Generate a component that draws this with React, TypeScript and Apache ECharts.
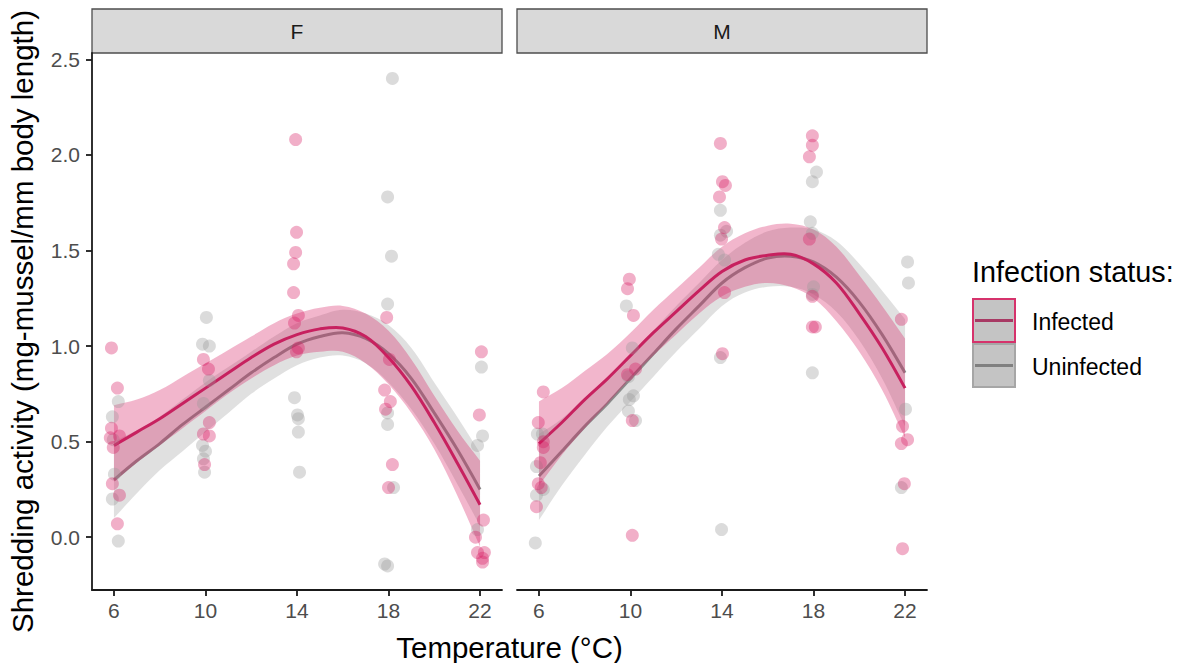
import React, { useEffect, useRef } from "react";
import * as echarts from "echarts";

// ---- Data ----
const TEMPS = [6, 10, 14, 18, 22];
const Y_TICKS = [0, 0.5, 1, 1.5, 2, 2.5];
const FACETS = ["F", "M"];
const FIT_X = [6, 7, 8, 9, 10, 11, 12, 13, 14, 15, 16, 17, 18, 19, 20, 21, 22];

// Observed points [temperature (jittered), shredding]
const F_INFECTED_PTS = [
  [5.89, 0.99], [6.15, 0.78], [5.89, 0.57], [5.84, 0.52], [6.24, 0.53], [5.97, 0.47], [5.93, 0.28], [6.24, 0.22], [6.15, 0.07],
  [9.91, 0.93], [10.13, 0.88], [10.17, 0.6], [9.91, 0.54], [10.17, 0.53], [9.96, 0.38],
  [13.94, 2.08], [13.98, 1.595], [13.94, 1.49], [13.85, 1.43], [13.85, 1.28], [14.06, 1.16], [13.89, 1.12], [14.06, 0.99], [13.98, 0.97],
  [17.92, 1.15], [18.04, 0.93], [17.83, 0.77], [18.08, 0.71], [17.87, 0.67], [18.17, 0.38], [18.0, 0.26],
  [22.06, 0.97], [21.97, 0.64], [22.15, 0.09], [21.8, 0.0], [21.89, -0.08], [22.19, -0.08], [22.11, -0.13], [22.11, -0.11],
];
const F_UNINFECTED_PTS = [
  [6.19, 0.71], [5.93, 0.63], [5.97, 0.51], [6.02, 0.33], [5.93, 0.2], [6.19, -0.02],
  [10.04, 1.15], [9.87, 1.01], [10.17, 1.0], [10.17, 0.82], [9.91, 0.7], [9.87, 0.48], [10.0, 0.45], [9.91, 0.41], [9.96, 0.34],
  [13.89, 0.73], [14.02, 0.64], [14.06, 0.62], [14.06, 0.55], [14.11, 0.34],
  [18.17, 2.4], [17.96, 1.78], [18.13, 1.47], [17.96, 1.22], [17.96, 0.65], [17.96, 0.59], [18.22, 0.26], [17.83, -0.14], [17.96, -0.15],
  [22.06, 0.89], [22.11, 0.53], [21.89, 0.48], [21.89, 0.04],
];
const M_INFECTED_PTS = [
  [6.19, 0.76], [5.97, 0.6], [6.19, 0.5], [6.19, 0.47], [6.06, 0.39], [5.97, 0.28], [6.1, 0.26], [5.89, 0.16],
  [9.95, 1.35], [9.87, 1.3], [10.13, 1.16], [10.22, 0.88], [9.87, 0.85], [10.08, 0.61], [10.08, 0.01],
  [13.93, 2.06], [14.02, 1.86], [14.15, 1.84], [13.89, 1.78], [14.11, 1.62], [13.98, 1.56], [14.11, 1.28], [14.02, 0.96],
  [17.95, 2.1], [17.95, 2.05], [17.82, 1.99], [17.82, 1.56], [17.95, 1.26], [17.95, 1.1], [18.08, 1.1],
  [21.84, 1.14], [21.89, 0.58], [22.11, 0.51], [21.84, 0.49], [21.97, 0.28], [21.89, -0.06],
];
const M_UNINFECTED_PTS = [
  [5.93, 0.54], [6.15, 0.54], [5.89, 0.37], [6.19, 0.25], [5.89, 0.22], [5.84, -0.03],
  [9.82, 1.21], [10.08, 0.99], [9.91, 0.84], [10.13, 0.74], [9.95, 0.72], [9.91, 0.66], [10.22, 0.61],
  [13.93, 1.71], [14.2, 1.6], [13.93, 1.58], [13.84, 1.48], [14.11, 1.45], [13.93, 0.94], [13.98, 0.04],
  [18.13, 1.91], [17.95, 1.86], [17.86, 1.65], [17.95, 1.59], [18.0, 1.31], [17.95, 1.27], [17.95, 0.86],
  [22.11, 1.44], [22.15, 1.33], [22.02, 0.67], [21.84, 0.26],
];

// Smoothed fits (line, lower and upper confidence band) read at FIT_X
const F_INF_FIT = [0.48, 0.55, 0.62, 0.7, 0.78, 0.86, 0.94, 1.01, 1.06, 1.09, 1.095, 1.05, 0.94, 0.79, 0.6, 0.39, 0.17];
const F_INF_LO = [0.29, 0.39, 0.48, 0.57, 0.66, 0.75, 0.83, 0.9, 0.95, 0.97, 0.97, 0.91, 0.8, 0.65, 0.46, 0.22, -0.05];
const F_INF_HI = [0.69, 0.72, 0.77, 0.84, 0.91, 0.98, 1.05, 1.12, 1.17, 1.2, 1.21, 1.17, 1.08, 0.93, 0.74, 0.56, 0.4];
const F_UNI_FIT = [0.3, 0.4, 0.49, 0.59, 0.68, 0.77, 0.86, 0.94, 1.01, 1.05, 1.07, 1.04, 0.96, 0.83, 0.65, 0.46, 0.25];
const F_UNI_LO = [0.1, 0.23, 0.35, 0.45, 0.55, 0.65, 0.75, 0.83, 0.9, 0.94, 0.95, 0.91, 0.81, 0.67, 0.49, 0.28, 0.06];
const F_UNI_HI = [0.5, 0.56, 0.63, 0.72, 0.81, 0.89, 0.97, 1.05, 1.12, 1.16, 1.19, 1.17, 1.11, 0.99, 0.81, 0.63, 0.44];
const M_INF_FIT = [0.49, 0.6, 0.72, 0.83, 0.95, 1.07, 1.18, 1.29, 1.39, 1.45, 1.475, 1.48, 1.43, 1.33, 1.17, 0.99, 0.78];
const M_INF_LO = [0.27, 0.43, 0.57, 0.7, 0.83, 0.95, 1.06, 1.17, 1.26, 1.31, 1.33, 1.31, 1.25, 1.13, 0.97, 0.77, 0.52];
const M_INF_HI = [0.71, 0.78, 0.87, 0.96, 1.07, 1.19, 1.3, 1.41, 1.52, 1.59, 1.63, 1.64, 1.61, 1.52, 1.37, 1.21, 1.04];
const M_UNI_FIT = [0.32, 0.45, 0.58, 0.7, 0.83, 0.96, 1.09, 1.21, 1.33, 1.41, 1.46, 1.47, 1.44, 1.36, 1.23, 1.06, 0.86];
const M_UNI_LO = [0.09, 0.27, 0.43, 0.58, 0.71, 0.84, 0.97, 1.09, 1.21, 1.28, 1.31, 1.31, 1.27, 1.18, 1.03, 0.83, 0.58];
const M_UNI_HI = [0.54, 0.62, 0.73, 0.83, 0.95, 1.08, 1.21, 1.33, 1.45, 1.54, 1.6, 1.62, 1.61, 1.55, 1.43, 1.29, 1.14];

// ---- Styles ----
const FONT = "'Liberation Sans', Arial, sans-serif";
const PINK = "#D81B60";
const PINK_LINE = "#C7215F";
const GREY = "#999999";
const GREY_LINE = "#8A8A8A";
const GRID_L = [92, 517];
const GRID_W = 410;
const GRID_T = 53;
const GRID_H = 537;
const SMOOTH = 0.35;

function scatter(data: number[][], color: string, idx: number) {
  return {
    type: "scatter",
    xAxisIndex: idx,
    yAxisIndex: idx,
    data,
    symbolSize: 13,
    itemStyle: { color, opacity: 0.35 },
    silent: true,
  };
}

function ribbon(lo: number[], hi: number[], color: string, opacity: number, idx: number) {
  const rows = FIT_X.map((x, i) => [x, lo[i], hi[i]]);
  return {
    type: "custom",
    xAxisIndex: idx,
    yAxisIndex: idx,
    data: rows,
    encode: { x: 0, y: [1, 2] },
    silent: true,
    renderItem: (params: any, api: any) => {
      if (params.dataIndex !== 0) return null;
      const upper = rows.map((r) => api.coord([r[0], r[2]]));
      const lower = rows.map((r) => api.coord([r[0], r[1]])).reverse();
      // duplicate the end points so the vertical ends stay straight while the sides are smoothed
      const pts = [upper[0], ...upper, upper[upper.length - 1], lower[0], ...lower, lower[lower.length - 1]];
      return {
        type: "polygon",
        shape: { points: pts, smooth: SMOOTH },
        style: { fill: color, opacity },
      };
    },
  };
}

function fitLine(vals: number[], color: string, idx: number) {
  const rows = FIT_X.map((x, i) => [x, vals[i]]);
  return {
    type: "custom",
    xAxisIndex: idx,
    yAxisIndex: idx,
    data: rows,
    encode: { x: 0, y: 1 },
    silent: true,
    renderItem: (params: any, api: any) => {
      if (params.dataIndex !== 0) return null;
      const pts = rows.map((r) => api.coord(r));
      return {
        type: "polyline",
        shape: { points: pts, smooth: SMOOTH },
        style: { stroke: color, lineWidth: 3, fill: null },
      };
    },
  };
}

export default function App() {
  const ref = useRef<HTMLDivElement>(null);
  useEffect(() => {
    if (!ref.current) return;
    const chart = echarts.init(ref.current, null, { renderer: "svg" });
    const axisColor = "#1A1A1A";
    const xAxes = FACETS.map((_, i) => ({
      type: "value",
      gridIndex: i,
      min: 5.04,
      max: 22.96,
      splitLine: { show: false },
      axisLine: { show: true, onZero: false, lineStyle: { color: axisColor, width: 1.8 } },
      axisTick: { show: true, length: 6, customValues: TEMPS, lineStyle: { color: axisColor, width: 1.8 } },
      axisLabel: { customValues: TEMPS, fontSize: 21, color: "#4D4D4D", margin: 10, fontFamily: FONT },
    }));
    const yAxes = FACETS.map((_, i) => ({
      type: "value",
      gridIndex: i,
      min: -0.276,
      max: 2.533,
      splitLine: { show: false },
      axisLine: { show: i === 0, onZero: false, lineStyle: { color: axisColor, width: 1.8 } },
      axisTick: { show: i === 0, length: 6, customValues: Y_TICKS, lineStyle: { color: axisColor, width: 1.8 } },
      axisLabel: {
        show: i === 0,
        customValues: Y_TICKS,
        formatter: (v: number) => v.toFixed(1),
        fontSize: 21,
        color: "#4D4D4D",
        margin: 12,
        fontFamily: FONT,
      },
      name: i === 0 ? "Shredding activity (mg-mussel/mm body length)" : "",
      nameLocation: "middle",
      nameGap: 55,
      nameTextStyle: { fontSize: 29.5, color: "#000", fontFamily: FONT },
    }));

    const fits = [
      { pI: F_INFECTED_PTS, pU: F_UNINFECTED_PTS, iF: F_INF_FIT, iL: F_INF_LO, iH: F_INF_HI, uF: F_UNI_FIT, uL: F_UNI_LO, uH: F_UNI_HI },
      { pI: M_INFECTED_PTS, pU: M_UNINFECTED_PTS, iF: M_INF_FIT, iL: M_INF_LO, iH: M_INF_HI, uF: M_UNI_FIT, uL: M_UNI_LO, uH: M_UNI_HI },
    ];
    const series: any[] = [];
    fits.forEach((f, i) => {
      series.push(scatter(f.pU, GREY, i));
      series.push(scatter(f.pI, PINK, i));
    });
    fits.forEach((f, i) => {
      series.push(ribbon(f.uL, f.uH, GREY, 0.3, i));
      series.push(fitLine(f.uF, GREY_LINE, i));
      series.push(ribbon(f.iL, f.iH, PINK, 0.32, i));
      series.push(fitLine(f.iF, PINK_LINE, i));
    });

    const graphic: any[] = [];
    FACETS.forEach((name, i) => {
      graphic.push({
        type: "rect",
        shape: { x: GRID_L[i], y: 9, width: GRID_W, height: 44 },
        style: { fill: "#D9D9D9", stroke: "#4D4D4D", lineWidth: 1.3 },
      });
      graphic.push({
        type: "text",
        x: GRID_L[i] + GRID_W / 2,
        y: 31,
        style: { text: name, fontSize: 21, fill: "#1A1A1A", fontFamily: FONT, align: "center", verticalAlign: "middle" },
      });
    });
    graphic.push({
      type: "text",
      x: (GRID_L[0] + GRID_L[1] + GRID_W) / 2,
      y: 647,
      style: { text: "Temperature (°C)", fontSize: 29.5, fill: "#000", fontFamily: FONT, align: "center", verticalAlign: "middle" },
    });
    // Legend
    graphic.push({
      type: "text",
      x: 972,
      y: 272,
      style: { text: "Infection status:", fontSize: 28.8, fill: "#000", fontFamily: FONT, align: "left", verticalAlign: "middle" },
    });
    const keys = [
      { label: "Infected", border: "#D6336C", line: "#A83A64", y: 299 },
      { label: "Uninfected", border: "#A6A6A6", line: "#808080", y: 344 },
    ];
    keys.forEach((k) => {
      graphic.push({
        type: "rect",
        shape: { x: 973, y: k.y, width: 42, height: 43 },
        style: { fill: "#C4C4C4", stroke: k.border, lineWidth: 2 },
      });
      graphic.push({
        type: "line",
        shape: { x1: 975, y1: k.y + 21.5, x2: 1013, y2: k.y + 21.5 },
        style: { stroke: k.line, lineWidth: 3 },
      });
      graphic.push({
        type: "text",
        x: 1032,
        y: k.y + 23,
        style: { text: k.label, fontSize: 23, fill: "#000", fontFamily: FONT, align: "left", verticalAlign: "middle" },
      });
    });

    chart.setOption({
      animation: false,
      backgroundColor: "#FFFFFF",
      grid: FACETS.map((_, i) => ({ left: GRID_L[i], top: GRID_T, width: GRID_W, height: GRID_H, containLabel: false })),
      xAxis: xAxes,
      yAxis: yAxes,
      series,
      graphic,
    });
    return () => chart.dispose();
  }, []);
  return <div ref={ref} style={{ position: "fixed", left: 0, top: 0, width: 1184, height: 663 }} />;
}
